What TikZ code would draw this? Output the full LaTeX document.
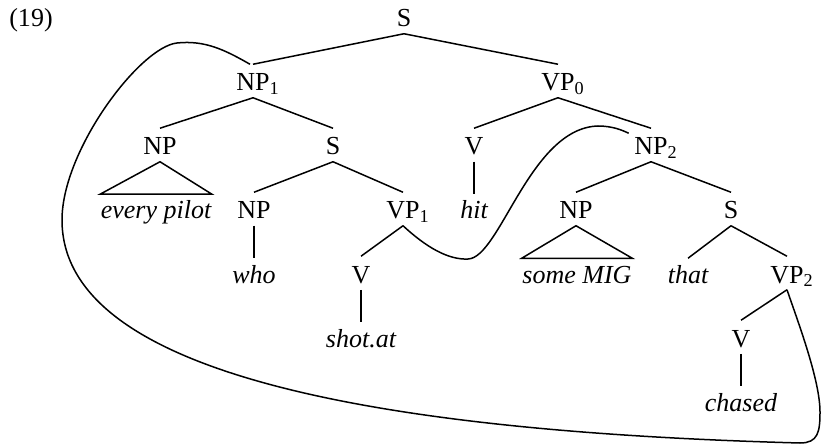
\documentclass[tikz,border=0pt]{standalone}
\usepackage{fontspec}
\setmainfont{Liberation Serif}
\newcommand{\sub}[1]{\rlap{\textsubscript{#1}}}

\begin{document}
\begin{tikzpicture}[x=1pt, y=-1pt, line width=1.5pt,
                every node/.style={inner sep=0pt, anchor=base, font=\fontsize{26}{30}\selectfont},
                cat/.style={text height=26pt, text depth=6pt},
                leaf/.style={text height=24pt, text depth=6pt, font=\fontsize{26}{30}\selectfont\itshape}]
                \useasboundingbox (0,0) rectangle (821,446);
                \node (ex) at (31,27) {(19)};
                \node[cat] (S) at (404,27) {S};
                \node[cat] (NP1) at (253,91) {NP\sub{1}};
                \node[cat] (VP0) at (558,91) {VP\sub{0}};
                \node[cat] (NPa) at (160,155) {NP};
                \node[cat] (Sa) at (333,155) {S};
                \node[cat] (Vhit) at (474,155) {V};
                \node[cat] (NP2) at (651,155) {NP\sub{2}};
                \node[leaf] (every) at (156,219) {every pilot};
                \node[cat] (NPb) at (254,219) {NP};
                \node[cat] (VP1) at (403,219) {VP\sub{1}};
                \node[leaf] (hit) at (474,219) {hit};
                \node[cat] (NPc) at (576,219) {NP};
                \node[cat] (Sb) at (731,219) {S};
                \node[leaf] (who) at (254,283) {who};
                \node[cat] (Vshot) at (361,283) {V};
                \node[leaf] (some) at (577,283) {some MIG};
                \node[leaf] (that) at (688,283) {that};
                \node[cat] (VP2) at (787,283) {VP\sub{2}};
                \node[leaf] (shot) at (361,347) {shot.at};
                \node[cat] (Vchased) at (741,347) {V};
                \node[leaf] (chased) at (741,411) {chased};

                % tree
                \draw (S.south) -- (NP1.north);
                \draw (S.south) -- (VP0.north);
                \draw (NP1.south) -- (NPa.north);
                \draw (NP1.south) -- (Sa.north);
                \draw (NPa.south) -- (every.north west) -- (every.north east) -- cycle;
                \draw (Sa.south) -- (NPb.north);
                \draw (Sa.south) -- (VP1.north);
                \draw (NPb.south) -- (who.north);
                \draw (VP1.south) -- (Vshot.north);
                \draw (Vshot.south) -- (shot.north);
                \draw (VP0.south) -- (Vhit.north);
                \draw (VP0.south) -- (NP2.north);
                \draw (Vhit.south) -- (hit.north);
                \draw (NP2.south) -- (NPc.north);
                \draw (NP2.south) -- (Sb.north);
                \draw (NPc.south) -- (some.north west) -- (some.north east) -- cycle;
                \draw (Sb.south) -- (that.north);
                \draw (Sb.south) -- (VP2.north);
                \draw (VP2.south) -- (Vchased.north);
                \draw (Vchased.south) -- (chased.north);

                % lines round the moved parts
                \draw ([xshift=-3pt]NP1.north) .. controls (225,50) and (205,40) .. (177,43)
                    .. controls (140,47) and (62,150) .. (62,220)
                    .. controls (62,380) and (400,432) .. (800,443)
                    .. controls (818,443) and (820,432) .. (820,412)
                    .. controls (820,380) and (798,322) .. (VP2.south);
                \draw (VP1.south) .. controls (426,247) and (448,260) .. (468,259)
                    .. controls (500,258) and (530,128) .. (598,126)
                    .. controls (612,126) and (622,130) .. ([shift={(-5pt,-5pt)}]NP2.north west);
            \end{tikzpicture}
\end{document}
